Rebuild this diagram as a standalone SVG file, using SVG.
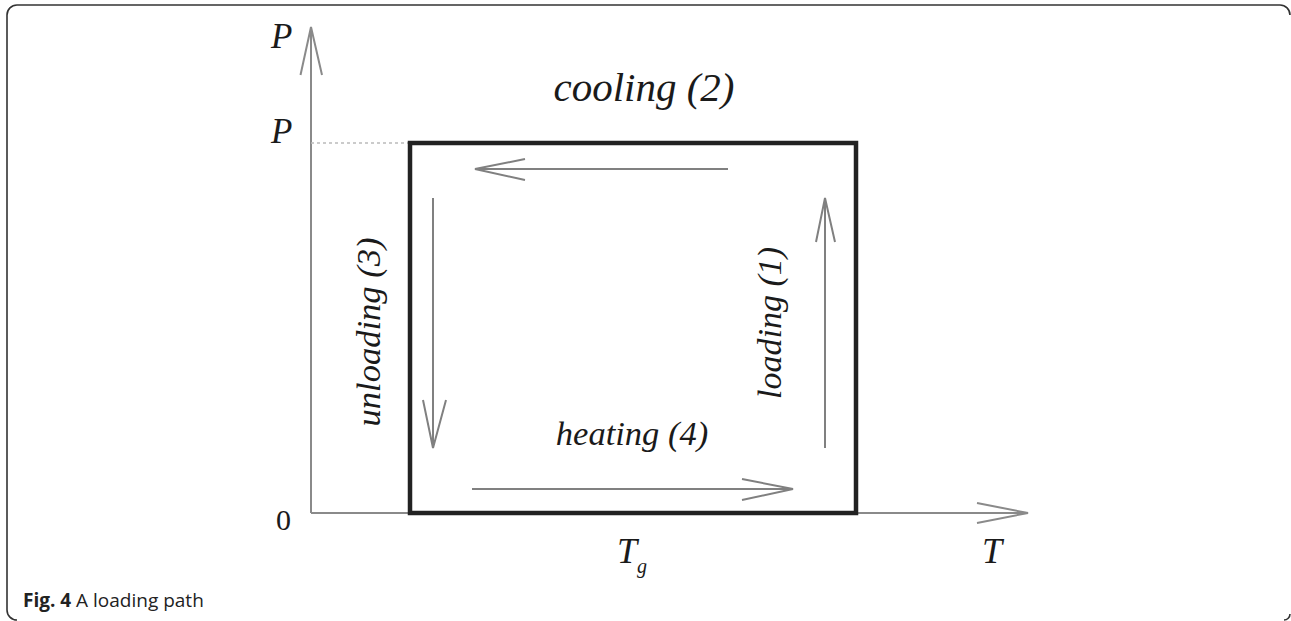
<svg xmlns="http://www.w3.org/2000/svg" width="1291" height="621" viewBox="0 0 1291 621">
<style>
.frame{fill:none;stroke:#333;stroke-width:1.6}
.axis{fill:none;stroke:#8a8a8a;stroke-width:2}
.flow{fill:none;stroke:#808080;stroke-width:2}
.box{fill:none;stroke:#222;stroke-width:4.5}
.lbl{font-family:"Liberation Serif","Times New Roman","DejaVu Serif",serif;font-style:italic;fill:#1a1a1a}
.num{font-family:"Liberation Serif","Times New Roman","DejaVu Serif",serif;fill:#1a1a1a}
.cap{font-family:"Open Sans","Noto Sans","Liberation Sans",sans-serif;font-size:19px;fill:#222}
</style>
<rect width="1291" height="621" fill="#fff"/>
<path class="frame" d="M17,620 A10,10 0 0 1 7,610 L7,15 A10,10 0 0 1 17,5 L1280,5 A10,10 0 0 1 1290,15"/>
<path class="frame" d="M1284,620 A6,6 0 0 0 1290,614"/>
<g id="connectors">
<g id="p-axis"><path class="axis" d="M311,513 L311,27 M300.5,75 L311,27 L322,75"/></g>
<g id="t-axis"><path class="axis" d="M311,513 L1028,513 M977,503 L1028,513 L977,523"/></g>
<line id="p-level" x1="311" y1="143" x2="410" y2="143" stroke="#bbb" stroke-width="1.5" stroke-dasharray="3,3"/>
<g id="loading-arrow"><path class="flow" d="M825,448 L825,198 M816,242 L825,198 L835,242"/></g>
<g id="cooling-arrow"><path class="flow" d="M728,169 L475,169 M525,159 L475,169 L525,180"/></g>
<g id="unloading-arrow"><path class="flow" d="M433,198 L433,448 M423,400 L433,448 L446,400"/></g>
<g id="heating-arrow"><path class="flow" d="M472,489 L793,489 M742,479 L793,489 L742,500"/></g>
</g>
<g id="cycle-box"><rect class="box" x="410" y="143" width="446" height="370"/></g>
<g id="labels">
<text class="lbl" x="271" y="48" font-size="35">P</text>
<text class="lbl" x="271" y="143" font-size="35">P</text>
<text class="num" x="276" y="530" font-size="30">0</text>
<text class="lbl" x="982" y="563" font-size="36">T</text>
<text class="lbl" x="617" y="563" font-size="36">T<tspan font-size="20" dy="10">g</tspan></text>
<text class="lbl" x="644" y="101" font-size="41" text-anchor="middle">cooling (2)</text>
<text class="lbl" x="632" y="445" font-size="34.5" text-anchor="middle">heating (4)</text>
<text class="lbl" font-size="34" text-anchor="middle" transform="translate(781,323) rotate(-90)">loading (1)</text>
<text class="lbl" font-size="34.5" text-anchor="middle" transform="translate(380,332) rotate(-90)">unloading (3)</text>
</g>
<text class="cap" x="23" y="607"><tspan font-weight="bold">Fig. 4</tspan> A loading path</text>
</svg>
